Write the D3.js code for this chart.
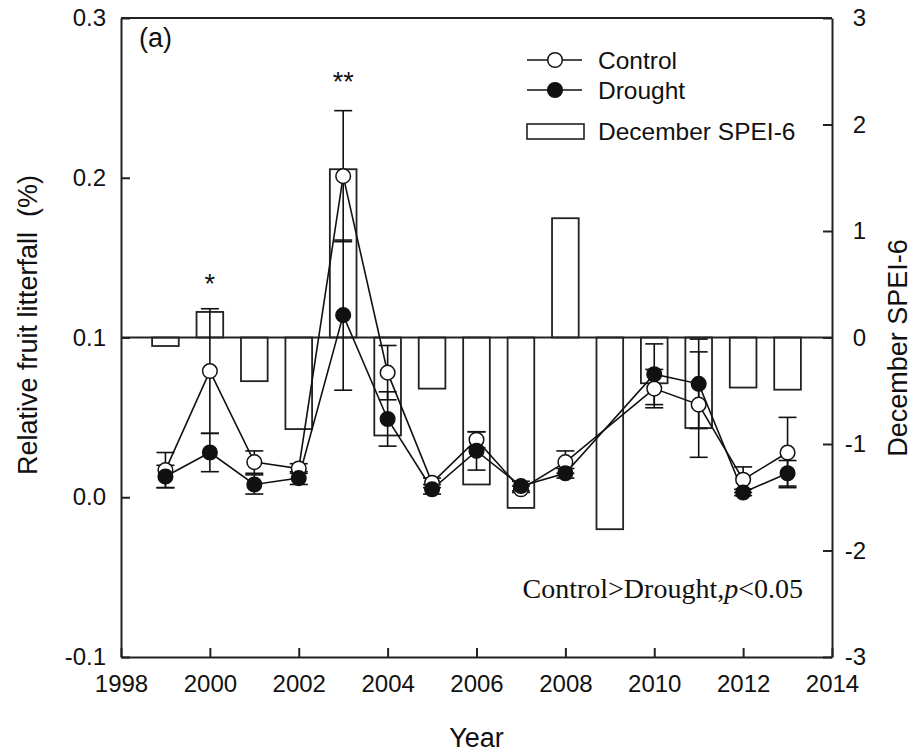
<!DOCTYPE html>
<html>
<head>
<meta charset="utf-8">
<script src="https://cdn.jsdelivr.net/npm/d3@7"></script>
<style>
  body { margin: 0; background: #fff; }
  svg text { font-family: "Liberation Sans", Arial, sans-serif; fill: #111; white-space: pre; }
</style>
</head>
<body>
<svg id="chart" width="921" height="756"></svg>
<script>
// SPEI bars (all years)
var speiYears = [1999, 2000, 2001, 2002, 2003, 2004, 2005, 2006, 2007, 2008, 2009, 2010, 2011, 2012, 2013];
var spei = [-0.08, 0.24, -0.41, -0.86, 1.58, -0.92, -0.48, -1.38, -1.60, 1.12, -1.80, -0.43, -0.85, -0.47, -0.49];

// fruit litterfall (no 2009)
var litYears = [1999, 2000, 2001, 2002, 2003, 2004, 2005, 2006, 2007, 2008, 2010, 2011, 2012, 2013];
var control = [0.017, 0.079, 0.022, 0.018, 0.201, 0.078, 0.009, 0.036, 0.005, 0.022, 0.068, 0.058, 0.011, 0.028];
var controlSE = [0.011, 0.039, 0.007, 0.003, 0.041, 0.017, 0.003, 0.005, 0.002, 0.007, 0.012, 0.033, 0.008, 0.022];
var drought = [0.013, 0.028, 0.008, 0.012, 0.114, 0.049, 0.005, 0.029, 0.007, 0.015, 0.077, 0.071, 0.003, 0.015];
var droughtSE = [0.007, 0.012, 0.006, 0.004, 0.047, 0.017, 0.003, 0.012, 0.003, 0.003, 0.019, 0.028, 0.002, 0.008];

var xTicks = [1998, 2000, 2002, 2004, 2006, 2008, 2010, 2012, 2014];
var yLeftTicks = [-0.1, 0.0, 0.1, 0.2, 0.3];
var yRightTicks = [-3, -2, -1, 0, 1, 2, 3];

// significance marks
var sigMarks = [{ year: 2000, label: "*", y: 0.128 }, { year: 2003, label: "**", y: 0.254 }];

var svg = d3.select("#chart");
var L = 121, R = 832, T = 18, B = 657;

var x = d3.scaleLinear().domain([1998, 2014]).range([L, R]);
var yL = d3.scaleLinear().domain([-0.1, 0.3]).range([B, T]);
var yR = d3.scaleLinear().domain([-3, 3]).range([B, T]);

var ctlData = litYears.map(function(yr, i) { return { year: yr, v: control[i], se: controlSE[i] }; });
var drtData = litYears.map(function(yr, i) { return { year: yr, v: drought[i], se: droughtSE[i] }; });

// hyphen minus like the original, not d3's unicode minus
var fmt1 = function(d) { return d3.format(".1f")(d).replace("\u2212", "-"); };
var fmt0 = function(d) { return d3.format("d")(d).replace("\u2212", "-"); };

// bars
svg.append("g").selectAll("rect")
  .data(speiYears.map(function(yr, i) { return { year: yr, v: spei[i] }; }))
  .enter().append("rect")
  .attr("x", function(d) { return x(d.year - 0.3); })
  .attr("width", function(d) { return x(d.year + 0.3) - x(d.year - 0.3); })
  .attr("y", function(d) { return Math.min(yR(d.v), yR(0)); })
  .attr("height", function(d) { return Math.abs(yR(d.v) - yR(0)); })
  .attr("fill", "none")
  .attr("stroke", "#222")
  .attr("stroke-width", 1.8);

// zero line
svg.append("line")
  .attr("x1", L).attr("x2", R)
  .attr("y1", yR(0)).attr("y2", yR(0))
  .attr("stroke", "#222").attr("stroke-width", 1.8);

// axes
var xAxis = d3.axisBottom(x).tickValues(xTicks).tickFormat(fmt0)
  .tickSizeInner(-9).tickSizeOuter(0).tickPadding(18);
var yAxisL = d3.axisLeft(yL).tickValues(yLeftTicks).tickFormat(fmt1)
  .tickSizeInner(-9).tickSizeOuter(0).tickPadding(15);
var yAxisR = d3.axisRight(yR).tickValues(yRightTicks).tickFormat(fmt0)
  .tickSizeInner(-9).tickSizeOuter(0).tickPadding(34);

var gx = svg.append("g").attr("transform", "translate(0," + B + ")").call(xAxis);
var gl = svg.append("g").attr("transform", "translate(" + L + ",0)").call(yAxisL);
var gr = svg.append("g").attr("transform", "translate(" + R + ",0)").call(yAxisR);
gr.selectAll(".tick text").attr("text-anchor", "end");

[gx, gl, gr].forEach(function(g) {
  g.selectAll("path, line").attr("stroke", "#222").attr("stroke-width", 2);
  g.selectAll("text").style("font-size", "24px").attr("fill", "#111");
});

svg.append("line").attr("x1", L).attr("x2", R).attr("y1", T).attr("y2", T)
  .attr("stroke", "#222").attr("stroke-width", 2);

// series
var line = d3.line().x(function(d) { return x(d.year); }).y(function(d) { return yL(d.v); });

function errorBars(data) {
  var g = svg.append("g").attr("stroke", "#111").attr("stroke-width", 1.6);
  data.forEach(function(d) {
    var cx = x(d.year), y1 = yL(d.v + d.se), y0 = yL(d.v - d.se);
    g.append("line").attr("x1", cx).attr("x2", cx).attr("y1", y1).attr("y2", y0);
    g.append("line").attr("x1", cx - 9).attr("x2", cx + 9).attr("y1", y1).attr("y2", y1);
    g.append("line").attr("x1", cx - 9).attr("x2", cx + 9).attr("y1", y0).attr("y2", y0);
  });
}

svg.append("path").datum(ctlData).attr("d", line)
  .attr("fill", "none").attr("stroke", "#111").attr("stroke-width", 1.6);
svg.append("path").datum(drtData).attr("d", line)
  .attr("fill", "none").attr("stroke", "#111").attr("stroke-width", 1.6);

errorBars(ctlData);
errorBars(drtData);

svg.append("g").selectAll("circle").data(ctlData).enter().append("circle")
  .attr("cx", function(d) { return x(d.year); })
  .attr("cy", function(d) { return yL(d.v); })
  .attr("r", 7.3).attr("fill", "#fff").attr("stroke", "#111").attr("stroke-width", 1.5);
svg.append("g").selectAll("circle").data(drtData).enter().append("circle")
  .attr("cx", function(d) { return x(d.year); })
  .attr("cy", function(d) { return yL(d.v); })
  .attr("r", 7.3).attr("fill", "#111").attr("stroke", "#111").attr("stroke-width", 1.5);

// significance
svg.selectAll(".sig").data(sigMarks).enter().append("text")
  .attr("class", "sig")
  .attr("x", function(d) { return x(d.year); })
  .attr("y", function(d) { return yL(d.y); })
  .attr("text-anchor", "middle")
  .style("font-size", "27px")
  .text(function(d) { return d.label; });

// panel label
svg.append("text").attr("x", 139).attr("y", 47).style("font-size", "27px").text("(a)");

// legend
var lg = svg.append("g");
lg.append("line").attr("x1", 527).attr("x2", 582).attr("y1", 60).attr("y2", 60)
  .attr("stroke", "#111").attr("stroke-width", 1.6);
lg.append("circle").attr("cx", 555).attr("cy", 60).attr("r", 7.3)
  .attr("fill", "#fff").attr("stroke", "#111").attr("stroke-width", 1.5);
lg.append("line").attr("x1", 527).attr("x2", 582).attr("y1", 90).attr("y2", 90)
  .attr("stroke", "#111").attr("stroke-width", 1.6);
lg.append("circle").attr("cx", 555).attr("cy", 90).attr("r", 7.3)
  .attr("fill", "#111").attr("stroke", "#111").attr("stroke-width", 1.5);
lg.append("rect").attr("x", 527).attr("y", 124).attr("width", 57).attr("height", 15)
  .attr("fill", "none").attr("stroke", "#222").attr("stroke-width", 1.6);
[["Control", 60], ["Drought", 90], ["December SPEI-6", 131]].forEach(function(t) {
  lg.append("text").attr("x", 598).attr("y", t[1]).attr("dy", "0.35em")
    .style("font-size", "24.5px").text(t[0]);
});

// stats note
var note = svg.append("text").attr("x", 803).attr("y", 598).attr("text-anchor", "end")
  .style("font-family", "'Liberation Serif', 'Times New Roman', serif").style("font-size", "28px");
note.append("tspan").style("font-family", "'Liberation Serif', serif").text("Control>Drought,");
note.append("tspan").style("font-family", "'Liberation Serif', serif").style("font-style", "italic").text("p");
note.append("tspan").style("font-family", "'Liberation Serif', serif").text("<0.05");

// axis titles
svg.append("text").attr("x", (L + R) / 2).attr("y", 747).attr("text-anchor", "middle")
  .style("font-size", "27px").text("Year");
svg.append("text").attr("transform", "translate(37,325) rotate(-90)").attr("text-anchor", "middle")
  .style("font-size", "27px").text("Relative fruit litterfall  (%)");
svg.append("text").attr("transform", "translate(907,348) rotate(-90)").attr("text-anchor", "middle")
  .style("font-size", "27px").text("December SPEI-6");
</script>
</body>
</html>
